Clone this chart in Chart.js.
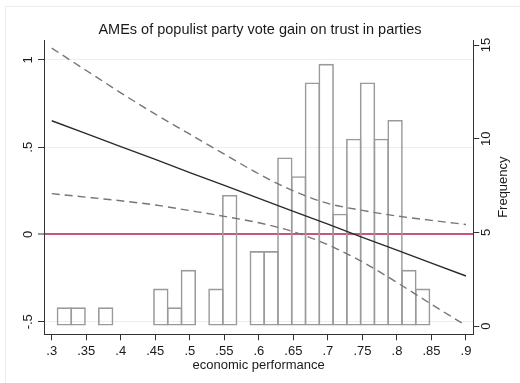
<!DOCTYPE html>
<html>
<head>
<meta charset="utf-8">
<script src="https://cdn.jsdelivr.net/npm/chart.js@4.4.1/dist/chart.umd.min.js"></script>
<style>
  html, body { margin: 0; padding: 0; background: #ffffff; }
  #wrap { width: 520px; height: 383px; }
</style>
</head>
<body>
<div id="wrap"><canvas id="c" width="520" height="383"></canvas></div>
<script>
// Average marginal effect of populist vote gain, by economic performance
const perfGrid = [0.30, 0.35, 0.40, 0.45, 0.50, 0.55, 0.60, 0.65, 0.70, 0.75, 0.80, 0.85, 0.90];
const ame      = [0.652, 0.578, 0.504, 0.430, 0.355, 0.281, 0.207, 0.133, 0.059, -0.016, -0.090, -0.164, -0.238];
const ciUpper  = [1.068, 0.940, 0.812, 0.690, 0.575, 0.460, 0.347, 0.250, 0.178, 0.138, 0.106, 0.081, 0.057];
const ciLower  = [0.234, 0.214, 0.193, 0.169, 0.137, 0.104, 0.067, 0.016, -0.059, -0.157, -0.275, -0.400, -0.522];

// Histogram of economic performance (27 equal-width bins)
const binStart = 0.3083;
const binWidth = 0.01996;
const frequency = [1, 1, 0, 1, 0, 0, 0, 2, 1, 3, 0, 2, 7, 0, 4, 4, 9, 8, 13, 14, 6, 10, 13, 10, 11, 3, 2];

// Axis ticks
const xTicks    = [0.30, 0.35, 0.40, 0.45, 0.50, 0.55, 0.60, 0.65, 0.70, 0.75, 0.80, 0.85, 0.90];
const ameTicks  = [-0.5, 0, 0.5, 1];
const freqTicks = [0, 5, 10, 15];

const FONT = "'Liberation Sans', Arial, Helvetica, sans-serif";
const TEXT = '#1a1a1a';
const AXIS = '#333333';

// ".35" style labels, without the leading zero
const fmt = v => String(+Number(v).toFixed(2)).replace(/^(-?)0\./, '$1.');
const setTicks = vals => scale => { scale.ticks = vals.map(v => ({ value: v })); };

const histData = frequency.map((f, i) => ({ x: binStart + (i + 0.5) * binWidth, y: f > 0 ? f : null }));
const curve = arr => perfGrid.map((x, i) => ({ x, y: arr[i] }));

// faint outline of the graph region
const outline = {
  id: 'outline',
  beforeDraw(chart) {
    const ctx = chart.ctx;
    ctx.save();
    ctx.strokeStyle = '#ececec';
    ctx.lineWidth = 1;
    ctx.beginPath();
    ctx.moveTo(5.5, chart.height);
    ctx.lineTo(5.5, 6.5);
    ctx.lineTo(chart.width, 6.5);
    ctx.stroke();
    ctx.restore();
  }
};

// right-hand axis title, reading bottom to top
const rightTitle = {
  id: 'rightTitle',
  afterDraw(chart) {
    const s = chart.scales.y1, ctx = chart.ctx, area = chart.chartArea;
    ctx.save();
    ctx.font = '13px ' + FONT;
    ctx.fillStyle = TEXT;
    ctx.textAlign = 'center';
    ctx.textBaseline = 'middle';
    ctx.translate(s.right - 17, (area.top + area.bottom) / 2);
    ctx.rotate(-Math.PI / 2);
    ctx.fillText('Frequency', 0, 0);
    ctx.restore();
  }
};

new Chart(document.getElementById('c'), {
  type: 'bar',
  data: {
    datasets: [
      {
        type: 'line', label: 'AME', data: curve(ame), yAxisID: 'y', order: 1,
        borderColor: '#2b2b2b', borderWidth: 1.4, pointRadius: 0, fill: false
      },
      {
        type: 'line', label: 'upper', data: curve(ciUpper), yAxisID: 'y', order: 2,
        borderColor: '#767676', borderWidth: 1.4, borderDash: [8, 5], pointRadius: 0,
        fill: false, cubicInterpolationMode: 'monotone'
      },
      {
        type: 'line', label: 'lower', data: curve(ciLower), yAxisID: 'y', order: 2,
        borderColor: '#767676', borderWidth: 1.4, borderDash: [8, 5], pointRadius: 0,
        fill: false, cubicInterpolationMode: 'monotone'
      },
      {
        type: 'bar', label: 'Frequency', data: histData, yAxisID: 'y1', order: 5,
        backgroundColor: 'rgba(255,255,255,0)', borderColor: '#9a9a9a', borderWidth: 1.6,
        borderSkipped: false, inflateAmount: 0, barPercentage: 1.116, categoryPercentage: 1
      }
    ]
  },
  options: {
    responsive: false,
    animation: false,
    devicePixelRatio: 1,
    layout: { padding: 0 },
    plugins: {
      legend: { display: false },
      tooltip: { enabled: false },
      title: {
        display: true,
        text: 'AMEs of populist party vote gain on trust in parties',
        color: TEXT,
        font: { family: FONT, size: 14.5, weight: 'normal' },
        padding: { top: 21.3, bottom: 1.3 }
      }
    },
    scales: {
      x: {
        type: 'linear', position: 'bottom', min: 0.2888, max: 0.9106, offset: false,
        afterBuildTicks: setTicks(xTicks),
        afterFit: s => { s.height = 48.7; },
        grid: { drawOnChartArea: false, offset: false, drawTicks: true, tickLength: 6, tickColor: AXIS, tickWidth: 1 },
        border: { display: true, color: AXIS, width: 1 },
        ticks: { includeBounds: false, color: TEXT, padding: 3, maxRotation: 0, autoSkip: false,
                 font: { family: FONT, size: 13 }, callback: v => fmt(v) },
        title: { display: true, text: 'economic performance', color: TEXT,
                 font: { family: FONT, size: 13 }, padding: { top: 0, bottom: 10 } }
      },
      y: {
        type: 'linear', position: 'left', min: -0.572, max: 1.1146,
        afterBuildTicks: setTicks(ameTicks),
        afterFit: s => { s.width = 44; },
        grid: {
          drawOnChartArea: true, drawTicks: true, tickLength: 6, tickColor: AXIS, tickWidth: 1,
          color: c => (c.tick && c.tick.value === 0) ? '#c8557a' : '#e8efef',
          lineWidth: c => (c.tick && c.tick.value === 0) ? 2 : 1
        },
        border: { display: true, color: AXIS, width: 1 },
        ticks: { includeBounds: false, color: TEXT, padding: 2, minRotation: 90, maxRotation: 90,
                 crossAlign: 'center', autoSkip: false,
                 font: { family: FONT, size: 13 }, callback: v => fmt(v) }
      },
      y1: {
        type: 'linear', position: 'right', min: -0.44, max: 15.27,
        afterBuildTicks: setTicks(freqTicks),
        afterFit: s => { s.width = 46.7; },
        grid: { drawOnChartArea: false, drawTicks: true, tickLength: 6, tickColor: AXIS, tickWidth: 1 },
        border: { display: true, color: AXIS, width: 1 },
        ticks: { includeBounds: false, color: TEXT, padding: 0, minRotation: 90, maxRotation: 90,
                 crossAlign: 'center', autoSkip: false,
                 font: { family: FONT, size: 13 }, callback: v => fmt(v) }
      }
    }
  },
  plugins: [outline, rightTitle]
});
</script>
</body>
</html>
